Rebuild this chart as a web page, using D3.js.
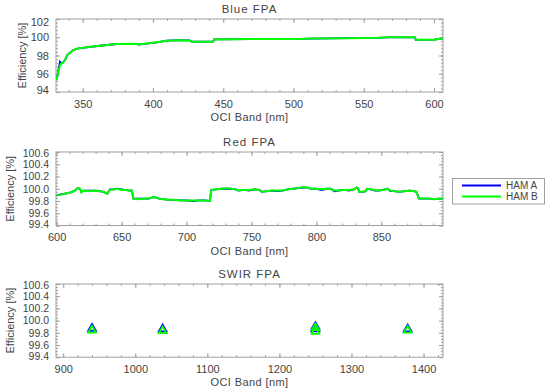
<!DOCTYPE html>
<html><head><meta charset="utf-8">
<script src="https://cdn.jsdelivr.net/npm/d3@7"></script>
<style>
body{margin:0;background:#fff}
text{font-family:"Liberation Sans",Arial,sans-serif;fill:#444}
</style>
</head><body>
<svg id="c" width="550" height="391"></svg>
<script>
// ---- Blue FPA data ----
const blueBand = [331.5,332.5,333.8,334.5,335.5,337.4,339,341,343.3,346.9,352.9,362.3,374.2,388.5,389.6,402.7,409.8,418,426,427.6,442.8,443.5,470,505,512,540,560,567.5,586.5,587,600,603,606.4];
const blueHamA = [95.3,96.2,97.32,97.2,97.15,97.5,98.05,98.3,98.6,98.79,98.9,99.07,99.26,99.28,99.2,99.45,99.62,99.68,99.65,99.52,99.52,99.76,99.8,99.82,99.86,99.9,99.94,99.99,99.99,99.72,99.73,99.8,99.88];
const blueHamB = [95.3,96.1,96.9,97.1,97.15,97.5,98.05,98.3,98.6,98.79,98.9,99.07,99.26,99.28,99.2,99.45,99.62,99.68,99.65,99.52,99.52,99.76,99.8,99.82,99.86,99.9,99.94,99.99,99.99,99.72,99.73,99.8,99.88];

// ---- Red FPA data ----
const redBand = [600,603,606,609,612,614,616,618,619,621,625,629,633,636,638,639,641,644,647,650,653,656,658,659,663,667,671,674,676,679,682,686,690,695,700,705,710,714,718,719,723,727,731,734,738,740,744,748,752,756,758,762,766,770,774,778,782,786,790,793,796,800,804,808,811,814,817,821,825,829,831,832,833,836,838,839,842,845,848,851,855,857,860,864,868,872,875,877,879,883,887,891,895,898];
const redHamA = [99.89,99.91,99.92,99.93,99.95,99.97,100.01,100.00,99.95,99.97,99.97,99.97,99.96,99.95,99.93,99.92,99.99,99.99,100.00,99.99,99.98,99.97,99.97,99.84,99.84,99.84,99.84,99.86,99.86,99.84,99.83,99.82,99.82,99.81,99.81,99.80,99.81,99.81,99.80,99.98,99.99,100.00,100.00,100.00,99.99,99.97,99.98,99.97,99.99,99.98,99.95,99.96,99.97,99.96,99.97,99.99,100.00,100.01,100.02,100.02,100.00,100.00,99.98,100.00,100.00,99.96,99.97,99.98,99.97,99.99,100.02,100.01,99.95,99.95,99.96,100.00,99.99,99.97,99.97,99.98,100.00,99.96,99.96,99.95,99.96,99.97,99.96,99.95,99.84,99.84,99.84,99.83,99.84,99.84];
const redHamB = [99.89,99.90,99.92,99.93,99.95,99.97,100.01,100.00,99.94,99.97,99.96,99.97,99.96,99.95,99.93,99.92,99.98,99.99,100.00,99.98,99.98,99.97,99.97,99.84,99.83,99.84,99.84,99.86,99.86,99.84,99.83,99.82,99.82,99.81,99.81,99.81,99.81,99.81,99.80,99.98,99.99,100.00,100.01,100.00,99.99,99.97,99.98,99.98,99.99,99.98,99.95,99.96,99.97,99.97,99.97,99.99,100.00,100.01,100.03,100.02,100.00,100.00,99.99,100.00,100.00,99.97,99.97,99.98,99.98,99.99,100.02,100.01,99.95,99.95,99.96,100.00,99.99,99.98,99.97,99.98,100.00,99.97,99.96,99.95,99.96,99.97,99.96,99.95,99.84,99.84,99.84,99.83,99.84,99.84];

// ---- SWIR FPA data ----
const swirBand = [940,1038,1250,1250,1378];
const swirHamA = [99.87,99.86,99.90,99.86,99.86];
const swirHamB = [99.84,99.83,99.88,99.82,99.84];

// ---- ticks ----
const blueXTicks = [350,400,450,500,550,600];
const blueYTicks = [94,96,98,100,102];
const redXTicks = [600,650,700,750,800,850];
const fpaYTicks = [99.4,99.6,99.8,100.0,100.2,100.4,100.6];
const swirXTicks = [900,1000,1100,1200,1300,1400];

const seriesNames = ["HAM A","HAM B"];
const seriesColors = ["#0000ff","#00ff00"];

const svg = d3.select("#c");
const L = 56, R = 443;
const frameColor = "#a0a0a0";

const panels = [
  {title:"Blue FPA", band:blueBand, a:blueHamA, b:blueHamB, xd:[331,606.4], yd:[94,102], top:19, bottom:92,
   xt:blueXTicks, xm:10, yt:blueYTicks, ym:0.4, yfmt:d3.format("d"), topShift:3, botShift:-2, ytx:22, fs:11, type:"line"},
  {title:"Red FPA", band:redBand, a:redHamA, b:redHamB, xd:[599.5,897.5], yd:[99.4,100.6], top:152, bottom:225.5,
   xt:redXTicks, xm:10, yt:fpaYTicks, ym:0.05, yfmt:d3.format(".1f"), topShift:1.5, botShift:-1.5, ytx:10, fs:10.5, type:"line"},
  {title:"SWIR FPA", band:swirBand, a:swirHamA, b:swirHamB, xd:[890,1427], yd:[99.4,100.6], top:284, bottom:357.2,
   xt:swirXTicks, xm:20, yt:fpaYTicks, ym:0.05, yfmt:d3.format(".1f"), topShift:1.5, botShift:-1.5, ytx:10, fs:10.5, type:"marker"}
];

function rangeSteps(d, step){
  const out=[]; const s=Math.ceil(d[0]/step-1e-9);
  for(let i=s; i*step<=d[1]+1e-9; i++) out.push(+(i*step).toFixed(6));
  return out;
}

panels.forEach((p,pi)=>{
  const x = d3.scaleLinear().domain(p.xd).range([L,R]);
  const y = d3.scaleLinear().domain(p.yd).range([p.bottom,p.top]);
  const g = svg.append("g");
  const cid = "clip"+pi;
  svg.append("clipPath").attr("id",cid).append("rect")
    .attr("x",L).attr("y",p.top).attr("width",R-L).attr("height",p.bottom-p.top);

  const xMinor = rangeSteps(p.xd,p.xm);
  const yMinor = rangeSteps(p.yd,p.ym);

  function styleAxis(sel, fs){
    sel.select(".domain").remove();
    sel.selectAll("line").attr("stroke",frameColor);
    sel.selectAll("text").style("font-size",(fs||11)+"px").attr("fill","#444");
  }
  // minor ticks
  g.append("g").attr("transform",`translate(0,${p.bottom})`)
    .call(d3.axisBottom(x).tickValues(xMinor).tickSize(-2).tickFormat("")).call(styleAxis);
  g.append("g").attr("transform",`translate(0,${p.top})`)
    .call(d3.axisTop(x).tickValues(xMinor).tickSize(-2).tickFormat("")).call(styleAxis);
  g.append("g").attr("transform",`translate(${L},0)`)
    .call(d3.axisLeft(y).tickValues(yMinor).tickSize(-2).tickFormat("")).call(styleAxis);
  g.append("g").attr("transform",`translate(${R},0)`)
    .call(d3.axisRight(y).tickValues(yMinor).tickSize(-2).tickFormat("")).call(styleAxis);
  // major ticks
  g.append("g").attr("transform",`translate(0,${p.bottom})`)
    .call(d3.axisBottom(x).tickValues(p.xt).tickSize(-4).tickPadding(8).tickFormat(d3.format("d"))).call(styleAxis);
  g.append("g").attr("transform",`translate(0,${p.top})`)
    .call(d3.axisTop(x).tickValues(p.xt).tickSize(-4).tickFormat("")).call(styleAxis);
  const yl = g.append("g").attr("transform",`translate(${L},0)`)
    .call(d3.axisLeft(y).tickValues(p.yt).tickSize(-4).tickPadding(7).tickFormat(p.yfmt)).call(s=>styleAxis(s,p.fs));
  g.append("g").attr("transform",`translate(${R},0)`)
    .call(d3.axisRight(y).tickValues(p.yt).tickSize(-4).tickFormat("")).call(styleAxis);
  yl.selectAll(".tick").filter(d=>d===p.yd[1]).select("text").attr("dy",(0.32*p.fs+p.topShift)+"px");
  yl.selectAll(".tick").filter(d=>d===p.yd[0]).select("text").attr("dy",(0.32*p.fs+p.botShift)+"px");

  // frame
  g.append("rect").attr("x",L).attr("y",p.top).attr("width",R-L).attr("height",p.bottom-p.top)
    .attr("fill","none").attr("stroke",frameColor).attr("stroke-width",1);

  // titles
  g.append("text").attr("x",(L+R)/2).attr("y",p.top-6).attr("text-anchor","middle")
    .style("font-size","11.5px").style("letter-spacing","1px").text(p.title);
  g.append("text").attr("x",(L+R)/2).attr("y",p.bottom+29).attr("text-anchor","middle")
    .style("font-size","11px").style("letter-spacing","0.4px").text("OCI Band [nm]");
  g.append("text").attr("transform",`translate(${p.ytx+4},${(p.top+p.bottom)/2}) rotate(-90)`)
    .attr("text-anchor","middle").style("font-size","11px").text("Efficiency [%]");

  const series = [p.a,p.b];
  const plot = g.append("g").attr("clip-path",`url(#${cid})`);
  if(p.type==="line"){
    series.forEach((vals,si)=>{
      const line = d3.line().x((d,i)=>x(p.band[i])).y(d=>y(d));
      plot.append("path").datum(vals).attr("d",line).attr("fill","none")
        .attr("stroke",seriesColors[si]).attr("stroke-width",si===0?1.8:2);
    });
  } else {
    const sym = d3.symbol().type(d3.symbolTriangle).size(26);
    series.forEach((vals,si)=>{
      plot.selectAll(".m"+si).data(vals).enter().append("path")
        .attr("transform",(d,i)=>`translate(${x(p.band[i])},${y(d)})`)
        .attr("d",sym).attr("fill","none").attr("stroke",seriesColors[si]).attr("stroke-width",1.8);
    });
  }
});

// legend
const lg = svg.append("g");
lg.append("rect").attr("x",452.5).attr("y",178.5).attr("width",92).attr("height",25.5)
  .attr("fill","#fff").attr("stroke",frameColor);
seriesNames.forEach((n,i)=>{
  const yy = 185.5 + i*11;
  lg.append("line").attr("x1",462).attr("x2",501).attr("y1",yy).attr("y2",yy)
    .attr("stroke",seriesColors[i]).attr("stroke-width",2);
  lg.append("text").attr("x",506).attr("y",yy+3.5).style("font-size","10px")
    .attr("fill","#222").text(n);
});
</script>
</body></html>
